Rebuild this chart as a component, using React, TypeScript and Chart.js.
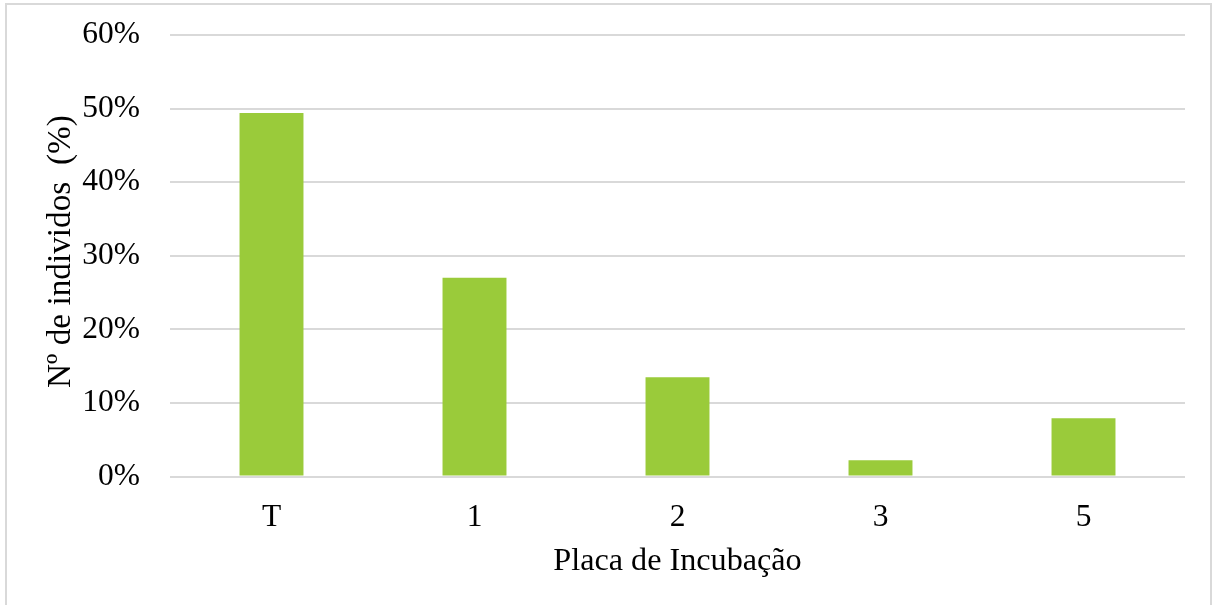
import React, { useEffect, useRef } from "react";
import { Chart, registerables } from "chart.js";

Chart.register(...registerables);

// Share of individuals per incubation plate
const categories = ["T", "1", "2", "3", "5"];
const percentValues = [49.4, 27.0, 13.5, 2.2, 7.9];
const yTickValues = [0, 10, 20, 30, 40, 50, 60];

const yTitle = " Nº de individos  (%)";
const xTitle = "Placa de Incubação";

const FONT = "'Liberation Serif', 'Times New Roman', serif";
const TICK_SIZE = 31.5;
const X_TITLE_SIZE = 32.2;
const Y_TITLE_SIZE = 33.3;

export default function App() {
  const canvasRef = useRef<HTMLCanvasElement | null>(null);

  useEffect(() => {
    const canvas = canvasRef.current;
    if (!canvas) return;
    const chart = new Chart(canvas, {
      type: "bar",
      data: {
        labels: categories,
        datasets: [
          {
            data: percentValues,
            backgroundColor: "#9ACB3A",
            borderWidth: 0,
            categoryPercentage: 1,
            barPercentage: 0.315,
          },
        ],
      },
      options: {
        responsive: false,
        animation: false,
        layout: { padding: { left: 0, right: 29, top: 35, bottom: 0 } },
        plugins: {
          legend: { display: false },
          tooltip: { enabled: false },
        },
        scales: {
          x: {
            grid: { display: false, drawTicks: false },
            border: { display: false },
            ticks: {
              color: "#000",
              font: { family: FONT, size: TICK_SIZE },
              padding: 22,
            },
            title: {
              display: true,
              text: xTitle,
              color: "#000",
              font: { family: FONT, size: X_TITLE_SIZE },
              padding: { top: 0, bottom: 24 },
            },
            afterFit: (scale: any) => {
              scale.height = 128.5;
            },
          },
          y: {
            min: 0,
            max: 60,
            afterBuildTicks: (scale: any) => {
              scale.ticks = yTickValues.map((v) => ({ value: v }));
            },
            grid: {
              color: "#D9D9D9",
              lineWidth: 2,
              drawTicks: false,
            },
            border: { display: false },
            ticks: {
              color: "#000",
              font: { family: FONT, size: TICK_SIZE },
              padding: 30,
              callback: (v: any) => `${v}%`,
            },
            title: {
              display: true,
              text: yTitle,
              color: "#000",
              font: { family: FONT, size: Y_TITLE_SIZE },
              padding: { top: 41, bottom: 0 },
            },
            afterFit: (scale: any) => {
              scale.width = 170;
              scale.paddingTop = 0;
              scale.paddingBottom = 0;
            },
          },
        },
      },
    });
    return () => chart.destroy();
  }, []);

  return (
    <div
      style={{
        position: "fixed",
        left: 0,
        top: 0,
        width: 1214,
        height: 605,
        background: "#fff",
      }}
    >
      <div
        style={{
          position: "absolute",
          left: 5,
          top: 3,
          width: 1207,
          height: 610,
          border: "2px solid #D9D9D9",
          boxSizing: "border-box",
        }}
      />
      <canvas
        ref={canvasRef}
        width={1214}
        height={605}
        style={{ position: "absolute", left: 0, top: 0 }}
      />
    </div>
  );
}
